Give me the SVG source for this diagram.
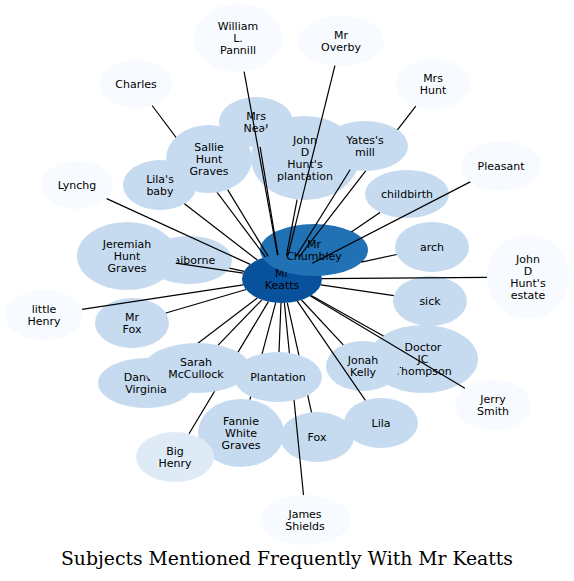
<svg xmlns="http://www.w3.org/2000/svg" width="574" height="581" viewBox="0 0 574 581">
<style>
text{font-family:"DejaVu Sans",Verdana,sans-serif;font-size:11px;text-anchor:middle;fill:#000}
.l0{fill:#f7fbff}.l1{fill:#deebf7}.l2{fill:#c6dbef}.l3{fill:#2171b5}.l4{fill:#08519c}
#connectors line{stroke:#000;stroke-width:1.2}
text.title{font-family:"DejaVu Serif",serif;font-size:18.5px}
</style>
<rect width="574" height="581" fill="#fff"/>
<g id="nodes-lower">
<g id="n-keatts"><ellipse class="l4" cx="282" cy="279" rx="40" ry="24"/><text x="282" y="276.5">Mr<tspan x="282" dy="12">Keatts</tspan></text></g>
<g id="n-chumbley"><ellipse class="l3" cx="314" cy="250" rx="54" ry="26"/><text x="314" y="247.5">Mr<tspan x="314" dy="12">Chumbley</tspan></text></g>
<g id="n-claiborne"><ellipse class="l2" cx="189" cy="260" rx="43" ry="24"/><text x="189" y="263.5">Claiborne</text></g>
<g id="n-jeremiah"><ellipse class="l2" cx="127" cy="256" rx="50" ry="34"/><text x="127" y="247.5">Jeremiah<tspan x="127" dy="12">Hunt</tspan><tspan x="127" dy="12">Graves</tspan></text></g>
<g id="n-danville"><ellipse class="l2" cx="146" cy="383" rx="48" ry="25"/><text x="146" y="380.5">Danville<tspan x="146" dy="12">Virginia</tspan></text></g>
<g id="n-doctor"><ellipse class="l2" cx="423" cy="359" rx="55" ry="34"/><text x="423" y="350.5">Doctor<tspan x="423" dy="12">JC</tspan><tspan x="423" dy="12">Thompson</tspan></text></g>
<g id="n-jonah"><ellipse class="l2" cx="363" cy="366" rx="37" ry="25"/><text x="363" y="363.5">Jonah<tspan x="363" dy="12">Kelly</tspan></text></g>
<g id="n-mrsneal"><ellipse class="l2" cx="256" cy="122" rx="37" ry="25"/><text x="256" y="119.5">Mrs<tspan x="256" dy="12">Neal</tspan></text></g>
<g id="n-jdhplantation"><ellipse class="l2" cx="305" cy="158" rx="54" ry="42"/><text x="305" y="143.5">John<tspan x="305" dy="12">D</tspan><tspan x="305" dy="12">Hunt's</tspan><tspan x="305" dy="12">plantation</tspan></text></g>
<g id="n-childbirth"><ellipse class="l2" cx="407" cy="194" rx="42" ry="24"/><text x="407" y="197.5">childbirth</text></g>
<g id="n-arch"><ellipse class="l2" cx="432" cy="247" rx="37" ry="25"/><text x="432" y="250.5">arch</text></g>
<g id="n-estate"><ellipse class="l0" cx="528" cy="277" rx="41" ry="42"/><text x="528" y="262.5">John<tspan x="528" dy="12">D</tspan><tspan x="528" dy="12">Hunt's</tspan><tspan x="528" dy="12">estate</tspan></text></g>
<g id="n-sick"><ellipse class="l2" cx="430" cy="301" rx="37" ry="25"/><text x="430" y="304.5">sick</text></g>
<g id="n-jerry"><ellipse class="l0" cx="493" cy="405" rx="38" ry="25"/><text x="493" y="402.5">Jerry<tspan x="493" dy="12">Smith</tspan></text></g>
<g id="n-lila"><ellipse class="l2" cx="381" cy="423" rx="37" ry="25"/><text x="381" y="426.5">Lila</text></g>
<g id="n-fox"><ellipse class="l2" cx="317" cy="437" rx="37" ry="25"/><text x="317" y="440.5">Fox</text></g>
<g id="n-james"><ellipse class="l0" cx="305" cy="520" rx="45" ry="25"/><text x="305" y="517.5">James<tspan x="305" dy="12">Shields</tspan></text></g>
<g id="n-fannie"><ellipse class="l2" cx="241" cy="433" rx="43" ry="34"/><text x="241" y="424.5">Fannie<tspan x="241" dy="12">White</tspan><tspan x="241" dy="12">Graves</tspan></text></g>
<g id="n-bighenry"><ellipse class="l1" cx="175" cy="457" rx="39" ry="25"/><text x="175" y="454.5">Big<tspan x="175" dy="12">Henry</tspan></text></g>
<g id="n-littlehenry"><ellipse class="l0" cx="44" cy="315" rx="39" ry="25"/><text x="44" y="312.5">little<tspan x="44" dy="12">Henry</tspan></text></g>
<g id="n-mrfox"><ellipse class="l2" cx="132" cy="323" rx="37" ry="25"/><text x="132" y="320.5">Mr<tspan x="132" dy="12">Fox</tspan></text></g>
<g id="n-lilasbaby"><ellipse class="l2" cx="160" cy="185" rx="37" ry="25"/><text x="160" y="182.5">Lila's<tspan x="160" dy="12">baby</tspan></text></g>
<g id="n-lynchg"><ellipse class="l0" cx="77" cy="185" rx="36" ry="24"/><text x="77" y="188.5">Lynchg</text></g>
<g id="n-charles"><ellipse class="l0" cx="136" cy="84" rx="36" ry="24"/><text x="136" y="87.5">Charles</text></g>
<g id="n-pannill"><ellipse class="l0" cx="238" cy="38" rx="44" ry="34"/><text x="238" y="29.5">William<tspan x="238" dy="12">L.</tspan><tspan x="238" dy="12">Pannill</tspan></text></g>
<g id="n-overby"><ellipse class="l0" cx="341" cy="41" rx="43" ry="25"/><text x="341" y="38.5">Mr<tspan x="341" dy="12">Overby</tspan></text></g>
<g id="n-mrshunt"><ellipse class="l0" cx="433" cy="84" rx="37" ry="25"/><text x="433" y="81.5">Mrs<tspan x="433" dy="12">Hunt</tspan></text></g>
<g id="n-pleasant"><ellipse class="l0" cx="501" cy="166" rx="40" ry="25"/><text x="501" y="169.5">Pleasant</text></g>
</g>
<g id="connectors">
<line x1="277.6" y1="255.1" x2="244.1" y2="71.7"/>
<line x1="287.9" y1="255.3" x2="334.9" y2="65.7"/>
<line x1="265.6" y1="257.1" x2="152.1" y2="105.5"/>
<line x1="298.9" y1="257.2" x2="415.8" y2="106.2"/>
<line x1="312.3" y1="263.3" x2="470.2" y2="181.9"/>
<line x1="250.2" y1="264.4" x2="106.7" y2="198.6"/>
<line x1="257.4" y1="260.1" x2="184.4" y2="203.8"/>
<line x1="268.3" y1="256.5" x2="227.6" y2="189.6"/>
<line x1="278.0" y1="255.1" x2="260.1" y2="146.8"/>
<line x1="286.5" y1="255.2" x2="297.1" y2="199.6"/>
<line x1="296.0" y1="256.5" x2="350.3" y2="169.5"/>
<line x1="351.3" y1="231.9" x2="380.0" y2="212.4"/>
<line x1="361.3" y1="262.1" x2="396.7" y2="254.5"/>
<line x1="322.0" y1="278.7" x2="487.0" y2="277.3"/>
<line x1="320.8" y1="284.8" x2="393.9" y2="295.6"/>
<line x1="311.2" y1="295.4" x2="383.4" y2="336.1"/>
<line x1="301.5" y1="300.0" x2="343.3" y2="344.8"/>
<line x1="310.4" y1="295.9" x2="464.9" y2="388.2"/>
<line x1="297.3" y1="301.2" x2="365.4" y2="400.3"/>
<line x1="287.3" y1="302.8" x2="311.5" y2="412.3"/>
<line x1="284.4" y1="303.0" x2="303.5" y2="495.0"/>
<line x1="281.0" y1="303.0" x2="279.0" y2="352.0"/>
<line x1="275.7" y1="302.7" x2="249.9" y2="399.7"/>
<line x1="268.4" y1="301.6" x2="189.0" y2="433.7"/>
<line x1="261.9" y1="299.8" x2="217.9" y2="345.3"/>
<line x1="257.3" y1="297.9" x2="173.0" y2="362.3"/>
<line x1="244.1" y1="271.3" x2="229.4" y2="268.2"/>
<line x1="243.2" y1="273.2" x2="175.9" y2="263.2"/>
<line x1="243.2" y1="284.9" x2="82.0" y2="309.3"/>
<line x1="246.1" y1="289.5" x2="165.9" y2="313.0"/>
</g>
<g id="nodes-upper">
<g id="n-sallie"><ellipse class="l2" cx="209" cy="159" rx="43" ry="34"/><text x="209" y="150.5">Sallie<tspan x="209" dy="12">Hunt</tspan><tspan x="209" dy="12">Graves</tspan></text></g>
<g id="n-yates"><ellipse class="l2" cx="365" cy="146" rx="43" ry="25"/><text x="365" y="143.5">Yates's<tspan x="365" dy="12">mill</tspan></text></g>
<g id="n-sarah"><ellipse class="l2" cx="197" cy="368" rx="53" ry="25"/><text x="196" y="365.5">Sarah<tspan x="196" dy="12">McCullock</tspan></text></g>
<g id="n-plantation"><ellipse class="l2" cx="278" cy="377" rx="44" ry="25"/><text x="278" y="380.5">Plantation</text></g>
</g>
<text class="title" x="287" y="565" textLength="452" lengthAdjust="spacingAndGlyphs">Subjects Mentioned Frequently With Mr Keatts</text>
</svg>
